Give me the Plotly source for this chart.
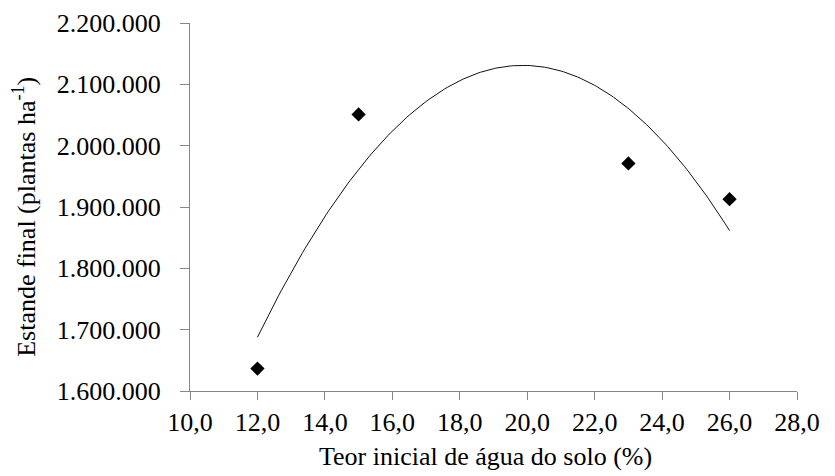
import numpy as np
import plotly.graph_objects as go

# Data
teor = [12.0, 15.0, 23.0, 26.0]
estande = [1636500, 2050900, 1971000, 1912700]

x_ticks = [10, 12, 14, 16, 18, 20, 22, 24, 26, 28]
y_ticks = [1600000, 1700000, 1800000, 1900000, 2000000, 2100000, 2200000]

x_title = "Teor inicial de água do solo (%)"
y_title = "Estande final (plantas ha<sup>-1</sup>)"

# Quadratic trend line (least squares fit of the observed points)
coef = np.polyfit(teor, estande, 2)
xs = np.linspace(min(teor), max(teor), 200)
ys = np.polyval(coef, xs)

FONT = "'Liberation Serif', 'Times New Roman', Times, serif"

fig = go.Figure()
fig.add_trace(go.Scatter(x=xs, y=ys, mode="lines",
                         line=dict(color="#111111", width=1), hoverinfo="skip",
                         showlegend=False))
fig.add_trace(go.Scatter(x=teor, y=estande, mode="markers",
                         marker=dict(symbol="diamond", size=11, color="black"),
                         showlegend=False))

axis_common = dict(showgrid=False, zeroline=False, showline=True,
                   linecolor="#868686", linewidth=1, ticks="outside",
                   tickcolor="#868686", tickwidth=1, automargin=False,
                   tickfont=dict(family=FONT, size=26, color="black"))

fig.update_xaxes(range=[10, 28], tickvals=x_ticks, tickformat=".1f", ticklen=8,
                 **axis_common)
fig.update_yaxes(range=[1600000, 2200000], tickvals=y_ticks, tickformat=",d", ticklen=9,
                 ticklabelstandoff=14, **axis_common)

fig.add_annotation(text=x_title, xref="paper", yref="paper", x=0.486, y=-0.179,
                   xanchor="center", yanchor="middle", showarrow=False,
                   font=dict(family=FONT, size=26, color="black"))
fig.add_annotation(text=y_title, xref="paper", yref="paper", x=-0.272, y=0.473,
                   xanchor="center", yanchor="middle", showarrow=False, textangle=-90,
                   font=dict(family=FONT, size=26, color="black"))

fig.update_layout(width=835, height=476, separators=",.",
                  font=dict(family=FONT),
                  margin=dict(l=190, r=38, t=23, b=85),
                  plot_bgcolor="white", paper_bgcolor="white")

fig.write_html("out.html", config={"displayModeBar": False},
               post_script="document.body.style.margin='0';document.body.style.padding='0';")
